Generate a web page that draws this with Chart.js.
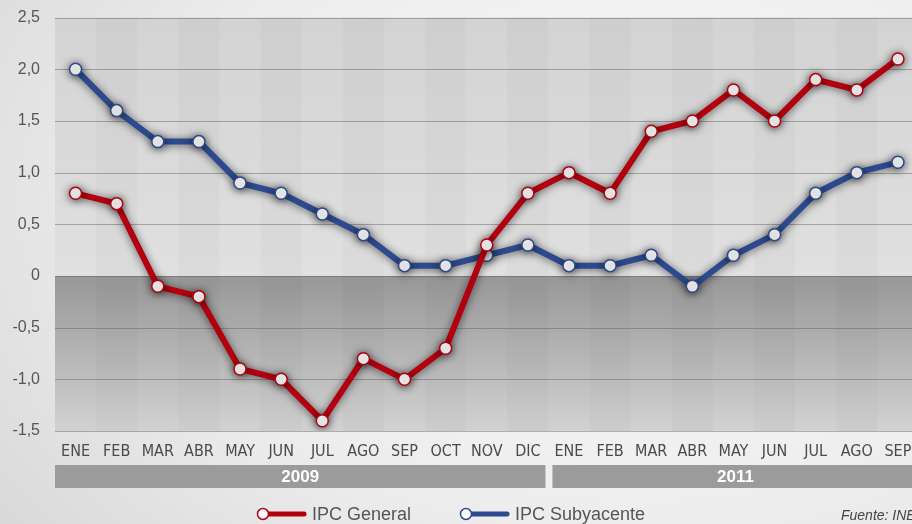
<!DOCTYPE html>
<html>
<head>
<meta charset="utf-8">
<script src="https://cdn.jsdelivr.net/npm/chart.js@4/dist/chart.umd.min.js"></script>
<style>
  html, body { margin: 0; padding: 0; overflow: hidden; }
  body {
    width: 912px; height: 524px;
    background: radial-gradient(ellipse 900px 600px at 70% 40%, #fbfbfb 0%, #ececec 55%, #d2d2d2 100%);
  }
  #wrap { position: absolute; left: 0; top: -7px; width: 926px; height: 531px; }
</style>
</head>
<body>
<div id="wrap"><canvas id="myChart" width="926" height="531"></canvas></div>
<script>
// data
const months = ["ENE", "FEB", "MAR", "ABR", "MAY", "JUN", "JUL", "AGO", "SEP", "OCT", "NOV", "DIC",
	"ENE", "FEB", "MAR", "ABR", "MAY", "JUN", "JUL", "AGO", "SEP"];
const years = [
	{ label: "2009", from: 0, to: 11 },
	{ label: "2011", from: 12, to: 20 }
];
const ipcGeneral = [0.8, 0.7, -0.1, -0.2, -0.9, -1.0, -1.4, -0.8, -1.0, -0.7, 0.3, 0.8,
	1.0, 0.8, 1.4, 1.5, 1.8, 1.5, 1.9, 1.8, 2.1];
const ipcSubyacente = [2.0, 1.6, 1.3, 1.3, 0.9, 0.8, 0.6, 0.4, 0.1, 0.1, 0.2, 0.3,
	0.1, 0.1, 0.2, -0.1, 0.2, 0.4, 0.8, 1.0, 1.1];
const yTicks = [-1.5, -1.0, -0.5, 0, 0.5, 1.0, 1.5, 2.0, 2.5];

const RED = "#b3000f";
const BLUE = "#2c4a8d";
const TEXT = "#555555";
const SHIFT = 7; // canvas sits 7px above the page

// plot background, stripes, year bars and legend
const decor = {
	id: "decor",
	beforeDatasetsDraw(chart) {
		const { ctx, chartArea: a, scales } = chart;
		const y0 = scales.y.getPixelForValue(0);
		ctx.save();
		let g = ctx.createLinearGradient(0, a.top, 0, y0);
		g.addColorStop(0, "#d3d3d3");
		g.addColorStop(1, "#e0e0e0");
		ctx.fillStyle = g;
		ctx.fillRect(a.left, a.top, a.right - a.left, y0 - a.top);
		g = ctx.createLinearGradient(0, y0, 0, a.bottom);
		g.addColorStop(0, "#979797");
		g.addColorStop(1, "#d2d2d2");
		ctx.fillStyle = g;
		ctx.fillRect(a.left, y0, a.right - a.left, a.bottom - y0);
		const w = (a.right - a.left) / months.length;
		ctx.fillStyle = "rgba(0,0,0,0.02)";
		for (let i = 1; i < months.length; i += 2) {
			ctx.fillRect(a.left + i * w, a.top, w, a.bottom - a.top);
		}
		// gridlines
		ctx.strokeStyle = "rgba(90,90,90,0.45)";
		ctx.lineWidth = 1;
		yTicks.forEach(v => {
			const y = Math.round(scales.y.getPixelForValue(v)) + 0.5;
			ctx.beginPath();
			ctx.moveTo(a.left, y);
			ctx.lineTo(a.right, y);
			ctx.stroke();
		});
		ctx.restore();
	},
	afterDraw(chart) {
		const { ctx, chartArea: a, scales } = chart;
		const w = (a.right - a.left) / months.length;
		ctx.save();
		ctx.translate(0, SHIFT);
		years.forEach((yr, k) => {
			let x1 = scales.x.getPixelForValue(yr.from) - w / 2;
			let x2 = scales.x.getPixelForValue(yr.to) + w / 2;
			if (k > 0) x1 += 4;
			if (k < years.length - 1) x2 -= 3;
			ctx.fillStyle = "#9b9b9b";
			ctx.fillRect(x1, 465, x2 - x1, 23);
			ctx.fillStyle = "#ffffff";
			ctx.font = "bold 17px 'Liberation Sans', Arial, sans-serif";
			ctx.textAlign = "center";
			ctx.textBaseline = "middle";
			ctx.fillText(yr.label, (x1 + x2) / 2, 477);
		});
		// legend
		const items = [
			{ text: "IPC General", color: RED, x: 263 },
			{ text: "IPC Subyacente", color: BLUE, x: 466 }
		];
		items.forEach(it => {
			ctx.strokeStyle = it.color;
			ctx.lineWidth = 5;
			ctx.lineCap = "round";
			ctx.beginPath();
			ctx.moveTo(it.x, 514);
			ctx.lineTo(it.x + 41, 514);
			ctx.stroke();
			ctx.fillStyle = "#fff";
			ctx.lineWidth = 1.5;
			ctx.beginPath();
			ctx.arc(it.x, 514, 5.5, 0, Math.PI * 2);
			ctx.fill();
			ctx.stroke();
			ctx.fillStyle = TEXT;
			ctx.font = "18px 'Liberation Sans', Arial, sans-serif";
			ctx.textAlign = "left";
			ctx.textBaseline = "middle";
			ctx.fillText(it.text, it.x + 49, 515);
		});
		ctx.font = "italic 14px 'Liberation Sans', Arial, sans-serif";
		ctx.fillStyle = "#444";
		ctx.fillText("Fuente: INE", 841, 516);
		ctx.restore();
	},
	beforeDatasetDraw(chart) {
		const ctx = chart.ctx;
		ctx.save();
		ctx.shadowColor = "rgba(0,0,0,0.6)";
		ctx.shadowBlur = 9;
		ctx.shadowOffsetY = 1;
	},
	afterDatasetDraw(chart) {
		chart.ctx.restore();
	}
};

new Chart("myChart", {
	type: "line",
	data: {
		labels: months,
		datasets: [{
			label: "IPC General",
			data: ipcGeneral,
			borderColor: RED,
			borderWidth: 6,
			pointRadius: 6,
			pointBorderWidth: 1.5,
			pointBackgroundColor: "#fff",
			pointBorderColor: RED,
			tension: 0
		}, {
			label: "IPC Subyacente",
			data: ipcSubyacente,
			borderColor: BLUE,
			borderWidth: 6,
			pointRadius: 6,
			pointBorderWidth: 1.5,
			pointBackgroundColor: "#fff",
			pointBorderColor: BLUE,
			tension: 0
		}]
	},
	options: {
		responsive: false,
		animation: false,
		layout: { padding: { top: 14, left: 0, right: 0, bottom: 0 } },
		plugins: {
			legend: { display: false },
			tooltip: { enabled: false }
		},
		scales: {
			x: {
				offset: true,
				grid: { display: false, drawTicks: false },
				border: { display: false },
				ticks: {
					color: "#4a4a4a",
					padding: 11,
					maxRotation: 0,
					autoSkip: false,
					font: { family: "'Liberation Sans Narrow', 'DejaVu Sans Condensed', sans-serif", size: 16 }
				},
				afterFit(s) { s.height = 93; }
			},
			y: {
				min: -1.5,
				max: 2.5,
				grid: { display: false, drawTicks: false },
				border: { display: false },
				afterBuildTicks(s) { s.ticks = yTicks.map(v => ({ value: v })); },
				ticks: {
					color: TEXT,
					padding: 15,
					font: { family: "'Liberation Sans', Arial, sans-serif", size: 16 },
					callback: v => v === 0 ? "0" : v.toFixed(1).replace(".", ",")
				},
				afterFit(s) { s.width = 55; }
			}
		}
	},
	plugins: [decor]
});
</script>
</body>
</html>
